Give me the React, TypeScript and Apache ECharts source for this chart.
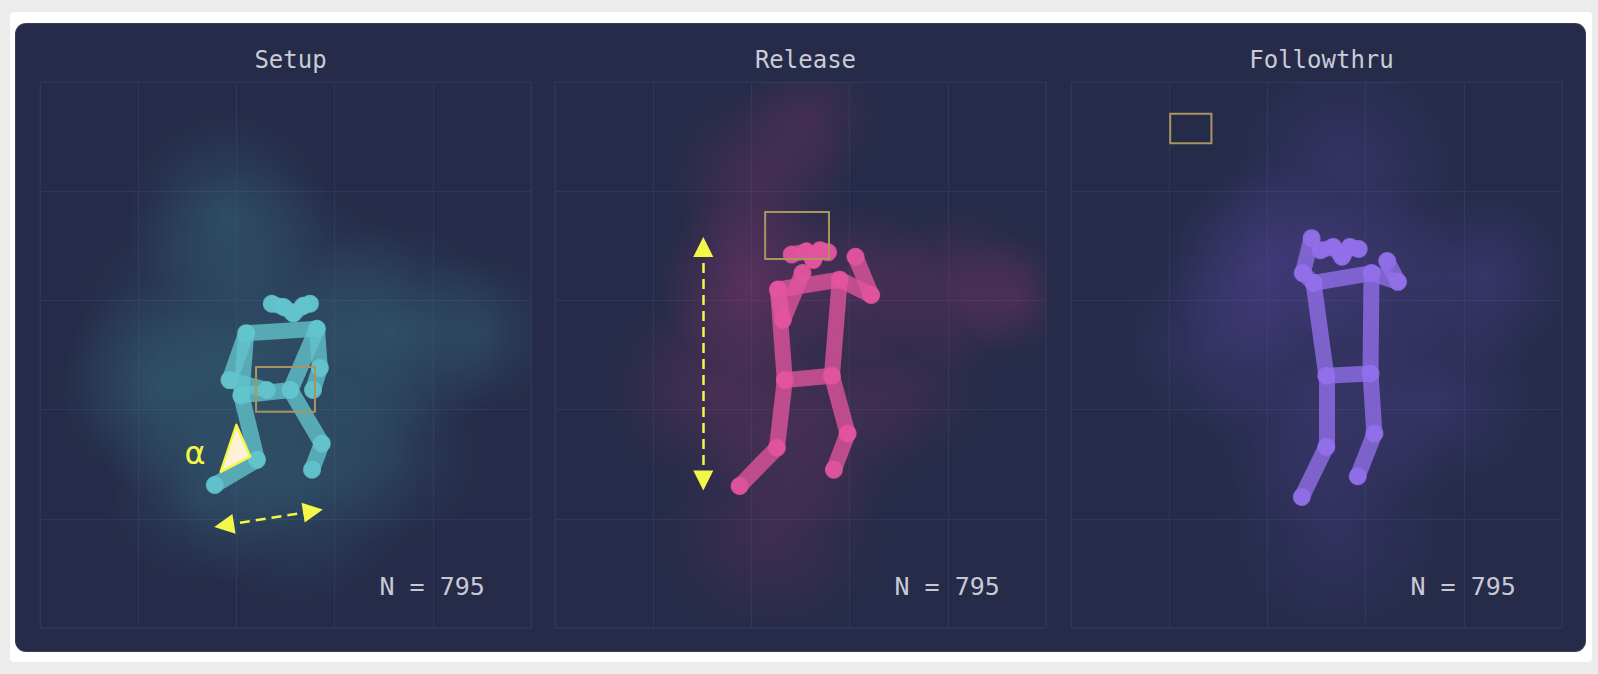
import React, { useEffect, useRef } from 'react';
import * as echarts from 'echarts';

const panelTitles = ['Setup', 'Release', 'Followthru'];
const sampleCounts = [795, 795, 795];

// keypoints in grid-cell units (x to the right, y downwards), COCO order:
// nose, l-eye, r-eye, l-ear, r-ear, l-sho, r-sho, l-elb, r-elb, l-wri, r-wri, l-hip, r-hip, l-knee, r-knee, l-ank, r-ank
const setupPose = [
  [2.58, 2.12], [2.48, 2.06], [2.68, 2.05], [2.36, 2.03], [2.75, 2.03],
  [2.10, 2.30], [2.82, 2.26], [1.93, 2.73], [2.85, 2.62], [2.31, 2.82], [2.78, 2.82],
  [2.05, 2.87], [2.55, 2.82], [2.21, 3.46], [2.87, 3.31], [1.78, 3.69], [2.77, 3.55],
];
const releasePose = [
  [2.63, 1.63], [2.56, 1.55], [2.70, 1.54], [2.41, 1.58], [2.78, 1.56],
  [2.27, 1.90], [2.90, 1.81], [2.32, 2.18], [3.22, 1.95], [2.52, 1.75], [3.06, 1.60],
  [2.34, 2.73], [2.82, 2.69], [2.26, 3.35], [2.98, 3.22], [1.88, 3.70], [2.84, 3.55],
];
const followPose = [
  [2.76, 1.60], [2.67, 1.51], [2.84, 1.51], [2.54, 1.54], [2.93, 1.53],
  [2.47, 1.84], [3.06, 1.75], [2.36, 1.75], [3.33, 1.83], [2.45, 1.43], [3.22, 1.64],
  [2.60, 2.69], [3.05, 2.67], [2.60, 3.34], [3.09, 3.22], [2.35, 3.80], [2.92, 3.61],
];
const bones = [
  [3, 1], [1, 0], [0, 2], [2, 4],
  [5, 6], [5, 7], [7, 9], [6, 8], [8, 10],
  [5, 11], [6, 12], [11, 12], [11, 13], [13, 15], [12, 14], [14, 16],
];

// density blobs: [x, y, diameter (cells), peak alpha]
const setupCloud = [
  [2.2, 2.5, 3.6, 0.30], [3.6, 2.3, 2.2, 0.24], [4.5, 2.3, 1.6, 0.18], [1.9, 1.2, 2.0, 0.22],
  [1.2, 2.8, 2.0, 0.20], [2.6, 3.7, 2.4, 0.22], [1.6, 3.8, 1.8, 0.16], [3.6, 3.4, 1.8, 0.14],
];
const releaseCloud = [
  [2.0, 1.85, 1.8, 0.34], [3.1, 1.85, 1.6, 0.24], [4.1, 1.9, 1.6, 0.22], [4.7, 1.95, 1.2, 0.18],
  [2.1, 0.9, 1.8, 0.20], [2.6, 0.3, 1.4, 0.16], [1.6, 2.8, 2.0, 0.20], [2.6, 3.1, 2.2, 0.20],
  [2.2, 4.1, 2.2, 0.16], [3.6, 2.8, 1.6, 0.12],
];
const followCloud = [
  [2.0, 1.7, 2.0, 0.36], [3.1, 1.8, 1.8, 0.26], [4.2, 1.8, 1.8, 0.24], [2.8, 0.8, 2.4, 0.20],
  [1.4, 2.4, 1.8, 0.18], [2.6, 2.9, 2.6, 0.24], [3.8, 2.9, 2.0, 0.18], [2.7, 4.1, 2.4, 0.16],
];

// [x1, y1, x2, y2]
const setupBox = [2.20, 2.61, 2.80, 3.02];
const releaseBox = [2.14, 1.19, 2.79, 1.62];
const followBox = [1.01, 0.29, 1.43, 0.56];

const setupAngle = [[2.00, 3.14], [2.14, 3.43], [1.84, 3.57]];
const setupAlphaAt = [1.58, 3.40];
const setupSpan = [[1.875, 4.06], [2.78, 3.93]];
const releaseSpan = [[1.51, 1.51], [1.51, 3.65]];
const countLabelAt = [4.53, 4.62];

const GRID_LEFTS = [40, 555, 1071];
const GRID_TOP = 82;
const GRID_W = 491;
const GRID_H = 546;
const GRID_LINE = '#2f3657';
const MONO = '"DejaVu Sans Mono", monospace';
const YELLOW = '#f2f748';
const BOX = '#a8955f';
const limbColors = ['#63c4cc', '#e2559e', '#9270ea'];
const cloudTints = ['70,165,175', '200,60,135', '115,85,210'];

const poses = [setupPose, releasePose, followPose];
const clouds = [setupCloud, releaseCloud, followCloud];
const boxes = [setupBox, releaseBox, followBox];

export default function App() {
  const ref = useRef<HTMLDivElement | null>(null);

  useEffect(() => {
    if (!ref.current) return;
    const chart = echarts.init(ref.current, undefined, { renderer: 'svg' });

    const grid = GRID_LEFTS.map((left) => ({
      left, top: GRID_TOP, width: GRID_W, height: GRID_H,
      show: true, borderColor: GRID_LINE, borderWidth: 1, backgroundColor: 'transparent',
    }));
    const axisBase = {
      type: 'value', min: 0, max: 5, interval: 1,
      axisLine: { show: false }, axisTick: { show: false }, axisLabel: { show: false },
      splitLine: { show: true, lineStyle: { color: GRID_LINE, width: 1 } },
    };
    const xAxis = panelTitles.map((_, i) => ({ ...axisBase, gridIndex: i }));
    const yAxis = panelTitles.map((_, i) => ({ ...axisBase, gridIndex: i, inverse: true }));

    // a text mark placed through the axes
    const textMark = (gi: number, at: number[], text: string, align: string, font: string, color: string) => ({
      type: 'custom', xAxisIndex: gi, yAxisIndex: gi, silent: true, z: 6,
      data: [at],
      renderItem: (_p: any, api: any) => {
        const c = api.coord([api.value(0), api.value(1)]);
        return {
          type: 'text', x: c[0], y: c[1],
          style: { text, fill: color, font, align, verticalAlign: 'middle' },
        };
      },
    });

    const series: any[] = [];
    panelTitles.forEach((_, i) => {
      const ax = { xAxisIndex: i, yAxisIndex: i };
      const tint = cloudTints[i];
      const pose = poses[i];
      series.push({
        type: 'custom', ...ax, clip: true, silent: true, z: 1,
        data: clouds[i],
        renderItem: (_p: any, api: any) => {
          const c = api.coord([api.value(0), api.value(1)]);
          const s = api.size([api.value(2), api.value(2)]);
          const a = api.value(3);
          return {
            type: 'circle',
            shape: { cx: c[0], cy: c[1], r: (s[0] + s[1]) / 4 },
            style: {
              fill: new echarts.graphic.RadialGradient(0.5, 0.5, 0.5, [
                { offset: 0, color: `rgba(${tint},${a})` },
                { offset: 0.5, color: `rgba(${tint},${a * 0.5})` },
                { offset: 1, color: `rgba(${tint},0)` },
              ]),
            },
          };
        },
      });
      series.push({
        type: 'lines', coordinateSystem: 'cartesian2d', ...ax, silent: true, z: 3,
        data: bones.map(([a, b]) => ({ coords: [pose[a], pose[b]] })),
        lineStyle: { color: limbColors[i], width: 16, opacity: 0.78, cap: 'round' },
      });
      series.push({
        type: 'scatter', ...ax, silent: true, z: 4,
        data: pose, symbolSize: 18,
        itemStyle: { color: limbColors[i], opacity: 0.85 },
      });
      series.push({
        type: 'custom', ...ax, silent: true, z: 5,
        data: [boxes[i]],
        renderItem: (_p: any, api: any) => {
          const p1 = api.coord([api.value(0), api.value(1)]);
          const p2 = api.coord([api.value(2), api.value(3)]);
          return {
            type: 'rect',
            shape: { x: p1[0], y: p1[1], width: p2[0] - p1[0], height: p2[1] - p1[1] },
            style: { fill: 'none', stroke: BOX, lineWidth: 2 },
          };
        },
      });
      series.push(textMark(i, countLabelAt, `N = ${sampleCounts[i]}`, 'right', `25px ${MONO}`, '#c8cad3'));
    });

    // Setup annotations
    series.push({
      type: 'custom', xAxisIndex: 0, yAxisIndex: 0, silent: true, z: 6,
      data: [setupAngle[0]],
      renderItem: (_p: any, api: any) => ({
        type: 'polygon',
        shape: { points: setupAngle.map((p) => api.coord(p)) },
        style: { fill: '#fdf1d6', stroke: YELLOW, lineWidth: 2.5, lineJoin: 'round' },
      }),
    });
    series.push(textMark(0, setupAlphaAt, 'α', 'center', '32px "DejaVu Sans", sans-serif', YELLOW));
    [[0, setupSpan], [1, releaseSpan]].forEach(([gi, span]: any) => {
      series.push({
        type: 'lines', coordinateSystem: 'cartesian2d', xAxisIndex: gi, yAxisIndex: gi, silent: true, z: 6,
        data: [{ coords: span }],
        symbol: ['triangle', 'triangle'], symbolSize: 20,
        lineStyle: { color: YELLOW, width: 2.5, type: [10, 6], opacity: 1 },
      });
    });

    chart.setOption({
      animation: false,
      backgroundColor: 'transparent',
      title: panelTitles.map((t, i) => ({
        text: t, left: GRID_LEFTS[i] + GRID_W / 2, top: 43, textAlign: 'center',
        textStyle: { color: '#c9ccd7', fontSize: 24, fontWeight: 'normal', fontFamily: MONO },
      })),
      grid, xAxis, yAxis, series,
    });

    return () => { chart.dispose(); };
  }, []);

  return (
    <div style={{ position: 'fixed', left: 0, top: 0, width: 1598, height: 674, background: '#ececec' }}>
      <div style={{ position: 'absolute', left: 10, top: 12, width: 1582, height: 650, background: '#ffffff', borderRadius: 4 }} />
      <div style={{ position: 'absolute', left: 16, top: 24, width: 1569, height: 627, background: '#252b48', borderRadius: 10, boxShadow: '0 0 0 1px #3a3f58' }} />
      <div ref={ref} style={{ position: 'absolute', left: 0, top: 0, width: 1598, height: 674 }} />
    </div>
  );
}
